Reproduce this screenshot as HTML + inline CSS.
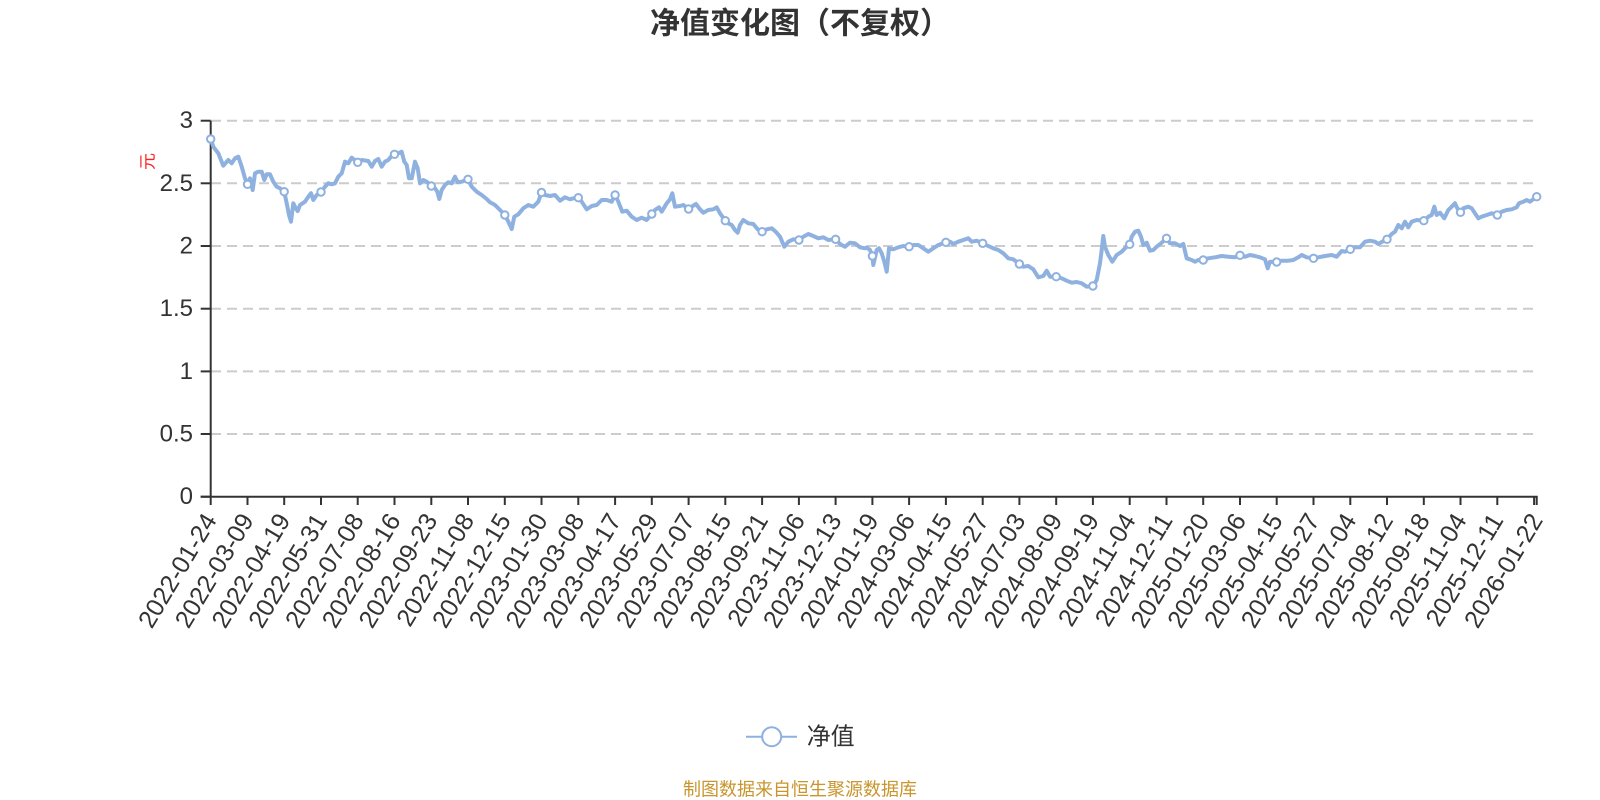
<!DOCTYPE html>
<html>
<head>
<meta charset="utf-8">
<style>
html,body{margin:0;padding:0;background:#fff;}
svg{display:block;}
text{font-family:"Liberation Sans","Noto Sans CJK SC",sans-serif;}
</style>
</head>
<body>
<svg width="1600" height="800" viewBox="0 0 1600 800" xmlns="http://www.w3.org/2000/svg">
<rect x="0" y="0" width="1600" height="800" fill="#fff"/>

<!-- Title -->
<text x="800" y="24" text-anchor="middle" dominant-baseline="central" font-size="30" font-weight="bold" fill="#333">净值变化图（不复权）</text>

<!-- Grid lines -->
<g stroke="#cccccc" stroke-width="2" stroke-dasharray="10,6" fill="none">
<line x1="211" y1="120.7" x2="1537" y2="120.7"/>
<line x1="211" y1="183.3" x2="1537" y2="183.3"/>
<line x1="211" y1="246" x2="1537" y2="246"/>
<line x1="211" y1="308.7" x2="1537" y2="308.7"/>
<line x1="211" y1="371.4" x2="1537" y2="371.4"/>
<line x1="211" y1="434" x2="1537" y2="434"/>
</g>

<!-- Y axis -->
<g stroke="#333" stroke-width="2">
<line x1="210.7" y1="120.7" x2="210.7" y2="496.7"/>
<line x1="200.7" y1="120.7" x2="210.7" y2="120.7"/>
<line x1="200.7" y1="183.3" x2="210.7" y2="183.3"/>
<line x1="200.7" y1="246" x2="210.7" y2="246"/>
<line x1="200.7" y1="308.7" x2="210.7" y2="308.7"/>
<line x1="200.7" y1="371.4" x2="210.7" y2="371.4"/>
<line x1="200.7" y1="434" x2="210.7" y2="434"/>
<line x1="200.7" y1="496.7" x2="210.7" y2="496.7"/>
</g>
<g font-size="24" fill="#333" text-anchor="end" dominant-baseline="central">
<text x="193" y="120.7">3</text>
<text x="193" y="183.3">2.5</text>
<text x="193" y="246">2</text>
<text x="193" y="308.7">1.5</text>
<text x="193" y="371.4">1</text>
<text x="193" y="434">0.5</text>
<text x="193" y="496.7">0</text>
</g>
<text x="0" y="0" transform="translate(148,161.5) rotate(-90)" font-size="17" fill="#f22" text-anchor="middle" dominant-baseline="central">元</text>

<!-- X axis -->
<g stroke="#333" stroke-width="2">
<line x1="200.7" y1="496.7" x2="1537.7" y2="496.7"/>
<line x1="210.7" y1="496.7" x2="210.7" y2="505"/>
<line x1="247.5" y1="496.7" x2="247.5" y2="505"/>
<line x1="284.2" y1="496.7" x2="284.2" y2="505"/>
<line x1="321" y1="496.7" x2="321" y2="505"/>
<line x1="357.7" y1="496.7" x2="357.7" y2="505"/>
<line x1="394.5" y1="496.7" x2="394.5" y2="505"/>
<line x1="431.3" y1="496.7" x2="431.3" y2="505"/>
<line x1="468" y1="496.7" x2="468" y2="505"/>
<line x1="504.8" y1="496.7" x2="504.8" y2="505"/>
<line x1="541.5" y1="496.7" x2="541.5" y2="505"/>
<line x1="578.3" y1="496.7" x2="578.3" y2="505"/>
<line x1="615.1" y1="496.7" x2="615.1" y2="505"/>
<line x1="651.8" y1="496.7" x2="651.8" y2="505"/>
<line x1="688.6" y1="496.7" x2="688.6" y2="505"/>
<line x1="725.3" y1="496.7" x2="725.3" y2="505"/>
<line x1="762.1" y1="496.7" x2="762.1" y2="505"/>
<line x1="798.9" y1="496.7" x2="798.9" y2="505"/>
<line x1="835.6" y1="496.7" x2="835.6" y2="505"/>
<line x1="872.4" y1="496.7" x2="872.4" y2="505"/>
<line x1="909.1" y1="496.7" x2="909.1" y2="505"/>
<line x1="945.9" y1="496.7" x2="945.9" y2="505"/>
<line x1="982.7" y1="496.7" x2="982.7" y2="505"/>
<line x1="1019.4" y1="496.7" x2="1019.4" y2="505"/>
<line x1="1056.2" y1="496.7" x2="1056.2" y2="505"/>
<line x1="1092.9" y1="496.7" x2="1092.9" y2="505"/>
<line x1="1129.7" y1="496.7" x2="1129.7" y2="505"/>
<line x1="1166.5" y1="496.7" x2="1166.5" y2="505"/>
<line x1="1203.2" y1="496.7" x2="1203.2" y2="505"/>
<line x1="1240" y1="496.7" x2="1240" y2="505"/>
<line x1="1276.7" y1="496.7" x2="1276.7" y2="505"/>
<line x1="1313.5" y1="496.7" x2="1313.5" y2="505"/>
<line x1="1350.3" y1="496.7" x2="1350.3" y2="505"/>
<line x1="1387" y1="496.7" x2="1387" y2="505"/>
<line x1="1423.8" y1="496.7" x2="1423.8" y2="505"/>
<line x1="1460.5" y1="496.7" x2="1460.5" y2="505"/>
<line x1="1497.3" y1="496.7" x2="1497.3" y2="505"/>
<line x1="1534.1" y1="496.7" x2="1534.1" y2="505"/>
<line x1="1536.7" y1="496.7" x2="1536.7" y2="505"/>
</g>
<g font-size="25" fill="#333" text-anchor="end" dominant-baseline="central">
<text transform="translate(210.7,516) rotate(-59)">2022-01-24</text>
<text transform="translate(247.5,516) rotate(-59)">2022-03-09</text>
<text transform="translate(284.2,516) rotate(-59)">2022-04-19</text>
<text transform="translate(321,516) rotate(-59)">2022-05-31</text>
<text transform="translate(357.7,516) rotate(-59)">2022-07-08</text>
<text transform="translate(394.5,516) rotate(-59)">2022-08-16</text>
<text transform="translate(431.3,516) rotate(-59)">2022-09-23</text>
<text transform="translate(468,516) rotate(-59)">2022-11-08</text>
<text transform="translate(504.8,516) rotate(-59)">2022-12-15</text>
<text transform="translate(541.5,516) rotate(-59)">2023-01-30</text>
<text transform="translate(578.3,516) rotate(-59)">2023-03-08</text>
<text transform="translate(615.1,516) rotate(-59)">2023-04-17</text>
<text transform="translate(651.8,516) rotate(-59)">2023-05-29</text>
<text transform="translate(688.6,516) rotate(-59)">2023-07-07</text>
<text transform="translate(725.3,516) rotate(-59)">2023-08-15</text>
<text transform="translate(762.1,516) rotate(-59)">2023-09-21</text>
<text transform="translate(798.9,516) rotate(-59)">2023-11-06</text>
<text transform="translate(835.6,516) rotate(-59)">2023-12-13</text>
<text transform="translate(872.4,516) rotate(-59)">2024-01-19</text>
<text transform="translate(909.1,516) rotate(-59)">2024-03-06</text>
<text transform="translate(945.9,516) rotate(-59)">2024-04-15</text>
<text transform="translate(982.7,516) rotate(-59)">2024-05-27</text>
<text transform="translate(1019.4,516) rotate(-59)">2024-07-03</text>
<text transform="translate(1056.2,516) rotate(-59)">2024-08-09</text>
<text transform="translate(1092.9,516) rotate(-59)">2024-09-19</text>
<text transform="translate(1129.7,516) rotate(-59)">2024-11-04</text>
<text transform="translate(1166.5,516) rotate(-59)">2024-12-11</text>
<text transform="translate(1203.2,516) rotate(-59)">2025-01-20</text>
<text transform="translate(1240,516) rotate(-59)">2025-03-06</text>
<text transform="translate(1276.7,516) rotate(-59)">2025-04-15</text>
<text transform="translate(1313.5,516) rotate(-59)">2025-05-27</text>
<text transform="translate(1350.3,516) rotate(-59)">2025-07-04</text>
<text transform="translate(1387,516) rotate(-59)">2025-08-12</text>
<text transform="translate(1423.8,516) rotate(-59)">2025-09-18</text>
<text transform="translate(1460.5,516) rotate(-59)">2025-11-04</text>
<text transform="translate(1497.3,516) rotate(-59)">2025-12-11</text>
<text transform="translate(1536.7,516) rotate(-59)">2026-01-22</text>
</g>

<!-- Series line -->
<polyline fill="none" stroke="#8eb1df" stroke-width="4" stroke-linejoin="round" stroke-linecap="round" points="
210.7,139 213.3,146.7 218.3,153.3 223.3,165.7 228.3,160 231.7,163.3 235,158.3 238.3,156.7 241.7,166.7 245,178.3 247.5,184.3 250,178.3 252.7,190 255,173.3 258.3,171.7 261.7,171.7 264.3,180 266.7,174.3 270,174.3 273.3,181.7 276.7,186.7 280,188.3 284.2,191.7 286.7,203.3 289,215 291,221.7 293.3,203.3 295.7,208.3 297.7,211 300,205 305,201.7 308.3,196.7 311,193.3 313.3,200 316.7,195 321,192 325,186.7 328.3,183.3 331.7,184.3 335,183.3 338.3,176.7 341.7,173.3 345,161.7 348.3,163.3 351.7,157.7 357.7,162.3 361.7,160 368.3,161 371.7,166.7 375,161 378.3,159 381.7,166.7 385,161.7 388.3,160 391,156.7 394.5,154.3 398.3,153.3 401.7,151.7 404.3,161.7 406.7,165 409,178.3 411.7,178.3 415,161.7 417.7,168.3 420,183.3 423.3,180 426.7,181.7 431.3,186 435,188.3 437.3,191.7 439.3,199 441.7,190 445,185 448.3,182.3 451.7,183.3 455,176.7 457.7,182.3 461.7,181.7 468,179.3 471.7,186.7 476.7,191.7 481.7,195 486.7,199 490,202.3 495,205 500,210 504.8,215 508.3,221.7 511.7,229 514.3,216.7 518.3,214.3 523.3,208.3 528.3,205 533.3,206.7 538.3,201.7 541.5,192.5
545,195 550,196 555,195 560,200.7 565,197.3 570,199.3 573.3,198.3 578.3,197.7 581.7,201.7 586.7,209.3 591.7,206 596.7,205 601.7,200 606.7,200 611.7,201.7 615.1,195 618.3,201.7 622.3,211.7 626.7,210.7 631.7,216.7 636.7,220 641.7,217.7 646.7,220 651.8,214 655,210 659,207.3 661.7,211.7 666.7,203.3 670,199.3 672.3,193.3 675,206.7 680,206 683.3,205 688.6,209 691.7,206.7 696,204 700,209.3 703.3,212.7 708.3,210 713.3,209.3 716.7,207.3 720,213.3 725.3,220.7 728.3,223.3 731.7,225 735,230 737.7,232.7 740,225 743.3,220 748.3,223.3 753.3,224 757.7,229.3 762.1,231.7 766.7,229.3 771.7,228.3 775.7,231.7 780,236.7 784.3,246.7 788.3,241.7 793.3,239.3 798.9,240 803.3,236.7 808.3,234 813.3,236 818.3,238.3 823.3,237.3 828.3,240 835.6,239.3 840,244 845,246.7 850,242.7 855,243.3 860,247.3 865,248.3
866.7,247.5 870,250 872.4,256 873.3,265 876.7,250 879,248.3 881.7,253.3 884.3,261.7 886.7,271.7 889,248.3 893.3,249.3 898.3,247.3 903.3,246 909.1,246.7 913.3,245 918.3,245 923.3,248.3 928.3,251.7 933.3,248.3 938.3,245 945.9,242.3 950,241.7 953.3,244 958.3,241.7 963.3,240 968.3,238.3 971.7,241.7 976.7,240.7 982.7,243.3 988.3,246 993.3,248.3 998.3,250 1003.3,253.3 1008.3,258.3 1013.3,259.3 1019.4,264 1023.3,266.7 1028.3,266 1033.3,269.3 1038.3,277.3 1043.3,276 1046.7,270.7 1050,276.7 1056.2,276.7 1061.7,278.3 1066.7,280.7 1071.7,282.7 1076.7,282 1081.7,283.3 1086.7,286.7 1092.9,286 1096.7,280 1100,263.3 1101.7,250 1103.3,236 1105,246.7 1108.3,255 1112.3,261.7 1116.7,255 1121.7,251.7 1125,248.3 1129.7,244.3 1131.7,236.7 1135,231.7 1138.3,230.7 1141,236.7 1143.3,245 1146.7,242.7 1150,250.7 1153.3,250 1156.7,246.7 1161,243.3 1166.5,238.3 1170,243.3 1175,243.3 1180,246 1183.3,244 1186.7,258.3 1191.7,260 1195,261.7 1198.3,260 1203.2,260
1208.3,258.3 1215,257.3 1221.7,256 1228.3,256.7 1235,257.3 1240,255.3 1245,256.7 1250,255 1255,256 1260,257.3 1265,259.3 1267.7,268.3 1270,261.7 1276.7,262 1281.7,260.7 1288.3,260.7 1293.3,260 1298.3,257.3 1301.7,255 1306.7,257.3 1313.5,258.3 1318.3,257.3 1325,256 1331.7,255 1336.7,256.7 1341.7,251 1345,251.7 1350.3,249.3 1355,247.3 1360,247.3 1365,241.7 1370,240.7 1375,241.7 1378.3,244 1382.3,241.7 1387,239.3 1391.7,234 1395,231.7 1398.3,225 1401.7,228.3 1405,221.7 1408.3,227.3 1411.7,221.7 1416.7,220 1423.8,220.7 1428.3,216.7 1431.7,215 1434.3,206.7 1436.7,215 1440,212.7 1444.3,218.3 1448.3,210 1451.7,206.7 1455,203.3 1457.3,208.3 1460.5,212.3 1463.3,208.3 1468.3,206.7 1471.7,208.3 1475,213.3 1478.3,218.3 1481.7,216.7 1486.7,215 1491.7,213.3 1497.3,215 1501.7,211.7 1506.7,210 1511.7,209.3 1516.7,207.3 1519,203.3 1523.3,201.7 1526.7,200 1530,201.7 1536.7,196.7"/>

<!-- Markers -->
<g fill="#fff" stroke="#8eb1df" stroke-width="2">
<circle cx="210.7" cy="139" r="3.7"/>
<circle cx="247.5" cy="184.3" r="3.7"/>
<circle cx="284.2" cy="191.7" r="3.7"/>
<circle cx="321" cy="192" r="3.7"/>
<circle cx="357.7" cy="162.3" r="3.7"/>
<circle cx="394.5" cy="154.3" r="3.7"/>
<circle cx="431.3" cy="186" r="3.7"/>
<circle cx="468" cy="179.3" r="3.7"/>
<circle cx="504.8" cy="215" r="3.7"/>
<circle cx="541.5" cy="192.5" r="3.7"/>
<circle cx="578.3" cy="197.7" r="3.7"/>
<circle cx="615.1" cy="195" r="3.7"/>
<circle cx="651.8" cy="214" r="3.7"/>
<circle cx="688.6" cy="209" r="3.7"/>
<circle cx="725.3" cy="220.7" r="3.7"/>
<circle cx="762.1" cy="231.7" r="3.7"/>
<circle cx="798.9" cy="240" r="3.7"/>
<circle cx="835.6" cy="239.3" r="3.7"/>
<circle cx="872.4" cy="256" r="3.7"/>
<circle cx="909.1" cy="246.7" r="3.7"/>
<circle cx="945.9" cy="242.3" r="3.7"/>
<circle cx="982.7" cy="243.3" r="3.7"/>
<circle cx="1019.4" cy="264" r="3.7"/>
<circle cx="1056.2" cy="276.7" r="3.7"/>
<circle cx="1092.9" cy="286" r="3.7"/>
<circle cx="1129.7" cy="244.3" r="3.7"/>
<circle cx="1166.5" cy="238.3" r="3.7"/>
<circle cx="1203.2" cy="260" r="3.7"/>
<circle cx="1240" cy="255.3" r="3.7"/>
<circle cx="1276.7" cy="262" r="3.7"/>
<circle cx="1313.5" cy="258.3" r="3.7"/>
<circle cx="1350.3" cy="249.3" r="3.7"/>
<circle cx="1387" cy="239.3" r="3.7"/>
<circle cx="1423.8" cy="220.7" r="3.7"/>
<circle cx="1460.5" cy="212.3" r="3.7"/>
<circle cx="1497.3" cy="215" r="3.7"/>
<circle cx="1536.7" cy="196.7" r="3.7"/>
</g>

<!-- Legend -->
<line x1="746" y1="736.7" x2="797" y2="736.7" stroke="#8eb1df" stroke-width="2"/>
<circle cx="771.7" cy="736.7" r="9.5" fill="#fff" stroke="#8eb1df" stroke-width="2"/>
<text x="806.7" y="737" font-size="24" fill="#333" dominant-baseline="central">净值</text>

<!-- Footer -->
<text x="800" y="789.5" text-anchor="middle" dominant-baseline="central" font-size="18" fill="#c9952c">制图数据来自恒生聚源数据库</text>
</svg>
</body>
</html>
